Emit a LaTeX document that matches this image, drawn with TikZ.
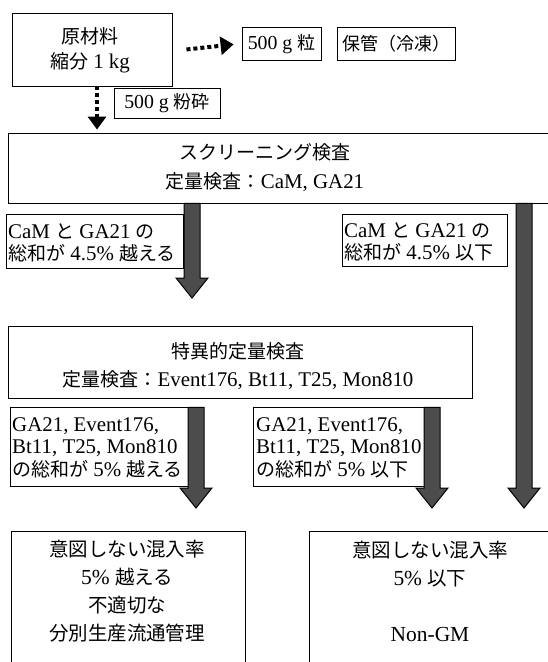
\documentclass[tikz,border=0pt]{standalone}
\usepackage{fontspec}
\setmainfont{Liberation Serif}[Scale=1.1]
\newfontfamily\jp{Noto Sans CJK JP}
\newcommand\J[1]{{\jp #1}}
\usetikzlibrary{calc,arrows.meta}
\begin{document}
\begin{tikzpicture}[x=1pt,y=-1pt,
  box/.style={draw, line width=0.9pt, inner sep=0pt},
  txt/.style={inner sep=0pt, align=center, font=\fontsize{19}{28}\selectfont},
  lbl/.style={inner sep=0pt, align=left, anchor=west, font=\fontsize{19}{22.5}\selectfont},
  dotarrow/.style={line width=4pt, dash pattern=on 4pt off 3pt, -{Triangle[length=13pt,width=18pt]}},
  fatarrow/.style={fill=black!70, draw=black, line width=1pt, line join=miter,
    to path={let \p1=(\tikztostart), \p2=(\tikztotarget) in
      (\x1-8pt,\y1) -- (\x1+8pt,\y1) -- (\x1+8pt,\y2+20pt) -- (\x1+16pt,\y2+20pt)
      -- (\x1,\y2) -- (\x1-16pt,\y2+20pt) -- (\x1-8pt,\y2+20pt) -- cycle}}
]
\useasboundingbox[fill=white] (0,0) rectangle (548,662);

% boxes
\node[box, minimum width=160pt, minimum height=73pt] (raw) at (92,49.5) {};
\node[txt, font=\fontsize{19}{25}\selectfont] (rawt) at (90,50.5) {\J{原材料}\\\J{縮分} 1 kg};
\node[box, minimum width=79pt, minimum height=33pt] (grain) at (281.5,43.5) {};
\node[txt, font=\fontsize{18}{22}\selectfont] (graint) at (281.5,44) {500 g \J{粒}};
\node[box, minimum width=118pt, minimum height=33pt] (store) at (396,43.5) {};
\node[txt, font=\fontsize{18}{22}\selectfont] (storet) at (396,44) {\J{保管（冷凍）}};
\node[box, minimum width=106pt, minimum height=30pt] (crush) at (167,103) {};
\node[txt, font=\fontsize{18}{22}\selectfont] (crusht) at (167,103.5) {500 g \J{粉砕}};

\node[box, minimum width=552pt, minimum height=70pt] (scr) at (284,168) {};
\node[txt, font=\fontsize{19}{29}\selectfont] (scrt) at (265,167.5) {\J{スクリーニング検査}\\\J{定量検査：}CaM, GA21};

\node[box, minimum width=177pt, minimum height=54pt] (l1) at (94.5,241) {};
\node[lbl] (l1t) at (8,243) {CaM \J{と} GA21 \J{の}\\\J{総和が} 4.5\% \J{越える}};
\node[box, minimum width=165pt, minimum height=52pt] (r1) at (424.5,240) {};
\node[lbl] (r1t) at (344,242) {CaM \J{と} GA21 \J{の}\\\J{総和が} 4.5\% \J{以下}};

\node[box, minimum width=464pt, minimum height=72pt] (spec) at (240,362) {};
\node[txt, font=\fontsize{19}{28}\selectfont] (spect) at (238,366) {\J{特異的定量検査}\\\J{定量検査：}Event176, Bt11, T25, Mon810};

\node[box, minimum width=182pt, minimum height=79pt] (l2) at (101,446.5) {};
\node[lbl] (l2t) at (12,447.5) {GA21, Event176,\\Bt11, T25, Mon810\\\J{の総和が} 5\% \J{越える}};
\node[box, minimum width=179pt, minimum height=79pt] (m2) at (342.5,446.5) {};
\node[lbl] (m2t) at (256,447.5) {GA21, Event176,\\Bt11, T25, Mon810\\\J{の総和が} 5\% \J{以下}};

\node[box, minimum width=234pt, minimum height=169pt] (resL) at (128,615.5) {};
\node[txt, font=\fontsize{19.5}{28}\selectfont] (resLt) at (127,591) {\J{意図しない混入率}\\5\% \J{越える}\\\J{不適切な}\\\J{分別生産流通管理}};
\node[box, minimum width=261pt, minimum height=169pt] (resR) at (439.5,615.5) {};
\node[txt, font=\fontsize{19.5}{28}\selectfont] (resRt) at (430,591) {\J{意図しない混入率}\\5\% \J{以下}\\[28pt]Non-GM};

% dotted arrows
\draw[dotarrow, shorten >=8pt] ([xshift=14pt]raw.east) -- (grain.west);
\draw[dotarrow, shorten >=3pt] ([xshift=5pt]raw.south) -- (scr.north -| 97,0);

% fat arrows
\coordinate (a1) at (192,298);
\coordinate (a2) at (524,508);
\coordinate (a3) at (196,508);
\coordinate (a4) at (432,508);
\draw[fatarrow] (scr.south -| a1) to (a1);
\draw[fatarrow] (scr.south -| a2) to (a2);
\draw[fatarrow] (spec.south -| a3) ++(0,9) to (a3);
\draw[fatarrow] (spec.south -| a4) ++(0,9) to (a4);
\end{tikzpicture}
\end{document}
